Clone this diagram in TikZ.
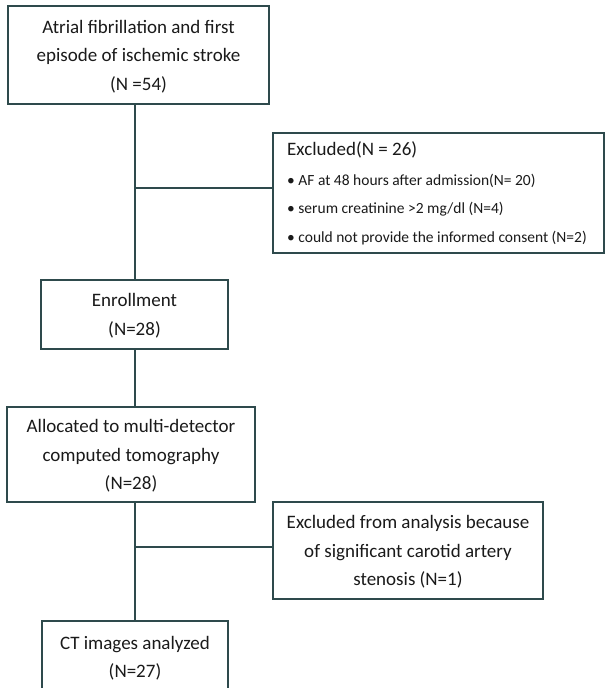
\documentclass[tikz,border=0pt]{standalone}
\usepackage{fontspec}
\setmainfont{Carlito}
\definecolor{edge}{HTML}{2E4A4C}
\definecolor{txt}{HTML}{1A1A1A}
\begin{document}
\begin{tikzpicture}[x=1pt,y=-1pt,
  box/.style={draw=edge,line width=1.4pt,fill=white,inner sep=0pt,align=center,text=txt,
    font=\fontsize{19}{28.5}\selectfont,text depth=-2pt},
  conn/.style={draw=edge,line width=1.4pt}]
\useasboundingbox (0,0) rectangle (607,688);
\clip (0,0) rectangle (607,688);
\coordinate (colx) at (135,0);
\node[box,minimum width=261pt,minimum height=98pt] (start) at (138.5,55)
  {Atrial fibrillation and first\\episode of ischemic stroke\\(N =54)};
\node[box,minimum width=331pt,minimum height=120pt,text depth=] (excl) at (438.5,193)
  {\raisebox{-6pt}{\begin{tabular}{@{}l@{}}
   \fontsize{19}{28}\selectfont Excluded(N = 26)\\[1.5pt]
   \fontsize{15.5}{28}\selectfont \textbullet\ AF at 48 hours after admission(N= 20)\\
   \fontsize{15.5}{28}\selectfont \textbullet\ serum creatinine >2 mg/dl (N=4)\\
   \fontsize{15.5}{28}\selectfont \textbullet\ could not provide the informed consent (N=2)
   \end{tabular}}\hspace*{3pt}};
\node[box,minimum width=187pt,minimum height=69pt] (enroll) at (134.5,314.5)
  {Enrollment\\(N=28)};
\node[box,minimum width=248pt,minimum height=95pt] (alloc) at (131,454.5)
  {Allocated to multi-detector\\computed tomography\\(N=28)};
\node[box,minimum width=270pt,minimum height=97pt] (excl2) at (408,550.5)
  {Excluded from analysis because\\of significant carotid artery\\stenosis (N=1)};
\node[box,minimum width=186pt,minimum height=72pt] (ct) at (135,657)
  {CT images analyzed\\(N=27)};
\coordinate (b1) at (135,188);
\coordinate (b2) at (135,547);
\draw[conn] (start.south -| colx) -- (enroll.north -| colx);
\draw[conn] (b1) -- (b1 -| excl.west);
\draw[conn] (enroll.south -| colx) -- (alloc.north -| colx);
\draw[conn] (alloc.south -| colx) -- (ct.north -| colx);
\draw[conn] (b2) -- (b2 -| excl2.west);
\end{tikzpicture}
\end{document}
